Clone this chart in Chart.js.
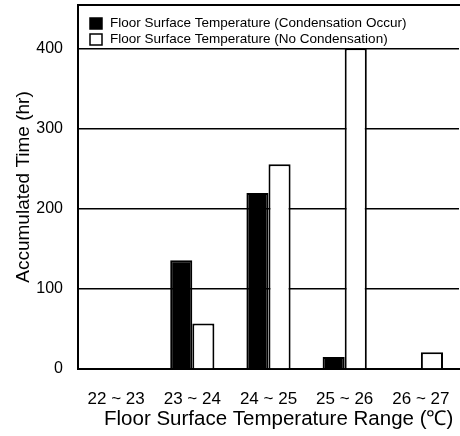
<!DOCTYPE html>
<html>
<head>
<meta charset="utf-8">
<script src="https://cdn.jsdelivr.net/npm/chart.js@4.4.1/dist/chart.umd.min.js"></script>
<style>
  html, body { margin: 0; padding: 0; background: #fff; }
  #wrap { width: 460px; height: 436px; }
</style>
</head>
<body>
<div id="wrap"><canvas id="chart" width="460" height="436"></canvas></div>
<script>
// data
const categories = ['22 ~ 23', '23 ~ 24', '24 ~ 25', '25 ~ 26', '26 ~ 27']
const condensationOccur = [0, 136, 220, 15, 0]
const noCondensation = [0, 57, 256, 401, 21]
const yTicks = [0, 100, 200, 300, 400]

const seriesLabels = [
  'Floor Surface Temperature (Condensation Occur)',
  'Floor Surface Temperature (No Condensation)'
]

const narrow = "'Liberation Sans Narrow', 'Arial Narrow', 'Liberation Sans', Arial, sans-serif"
const regular = "'Liberation Sans', Arial, sans-serif"

// top frame line and the legend sitting inside the plot
const framePlugin = {
  id: 'frame',
  afterDraw(chart) {
    const { ctx, chartArea } = chart
    ctx.save()
    ctx.strokeStyle = '#000'
    ctx.lineWidth = 2
    ctx.beginPath()
    ctx.moveTo(chartArea.left, chartArea.top)
    ctx.lineTo(chartArea.right + 2, chartArea.top)
    ctx.stroke()

    // legend
    ctx.font = '13.5px ' + narrow
    ctx.textBaseline = 'middle'
    ctx.textAlign = 'left'
    chart.data.datasets.forEach((ds, i) => {
      const y = chartArea.top + 18 + i * 16
      ctx.fillStyle = ds.backgroundColor
      ctx.fillRect(chartArea.left + 12, y - 5, 12, 11)
      ctx.lineWidth = 1.5
      ctx.strokeStyle = '#000'
      ctx.strokeRect(chartArea.left + 12, y - 5, 12, 11)
      ctx.fillStyle = '#000'
      ctx.fillText(ds.label, chartArea.left + 32, y)
    })
    ctx.restore()
  }
}

new Chart(document.getElementById('chart'), {
  type: 'bar',
  data: {
    labels: categories,
    datasets: [
      {
        label: seriesLabels[0],
        data: condensationOccur,
        backgroundColor: '#000',
        borderColor: '#000',
        borderWidth: 2,
        categoryPercentage: 0.58,
        barPercentage: 1.0
      },
      {
        label: seriesLabels[1],
        data: noCondensation,
        backgroundColor: '#fff',
        borderColor: '#000',
        borderWidth: 2,
        categoryPercentage: 0.58,
        barPercentage: 1.0
      }
    ]
  },
  options: {
    responsive: false,
    animation: false,
    layout: {
      padding: { top: 5, right: 1, bottom: 0, left: 0 }
    },
    plugins: {
      legend: { display: false },
      tooltip: { enabled: false }
    },
    scales: {
      x: {
        grid: { display: false, drawTicks: false },
        border: { display: true, color: '#000', width: 2 },
        ticks: {
          color: '#000',
          padding: 20,
          maxRotation: 0,
          font: { family: narrow, size: 17 }
        },
        title: {
          display: true,
          // trailing space nudges the right-aligned title a little left
          text: 'Floor Surface Temperature Range (\u2103) ',
          color: '#000',
          align: 'end',
          padding: { top: 0, bottom: 4 },
          font: { family: regular, size: 20.5 }
        },
        afterFit(scale) {
          scale.height = 67
          scale.paddingLeft = 0
          scale.paddingRight = 0
        }
      },
      y: {
        min: 0,
        max: 455,
        grid: { color: '#000', lineWidth: 1.5, drawTicks: false },
        border: { display: true, color: '#000', width: 2 },
        ticks: {
          color: '#000',
          padding: 15,
          stepSize: 100,
          font: { family: narrow, size: 16 }
        },
        afterBuildTicks(scale) {
          scale.ticks = yTicks.map(v => ({ value: v }))
        },
        title: {
          display: true,
          text: 'Accumulated Time (hr)',
          color: '#000',
          padding: { top: 12, bottom: 4 },
          font: { family: regular, size: 19 }
        },
        afterFit(scale) {
          scale.width = 78
          scale.paddingTop = 0
          scale.paddingBottom = 0
        }
      }
    }
  },
  plugins: [framePlugin]
})
</script>
</body>
</html>
